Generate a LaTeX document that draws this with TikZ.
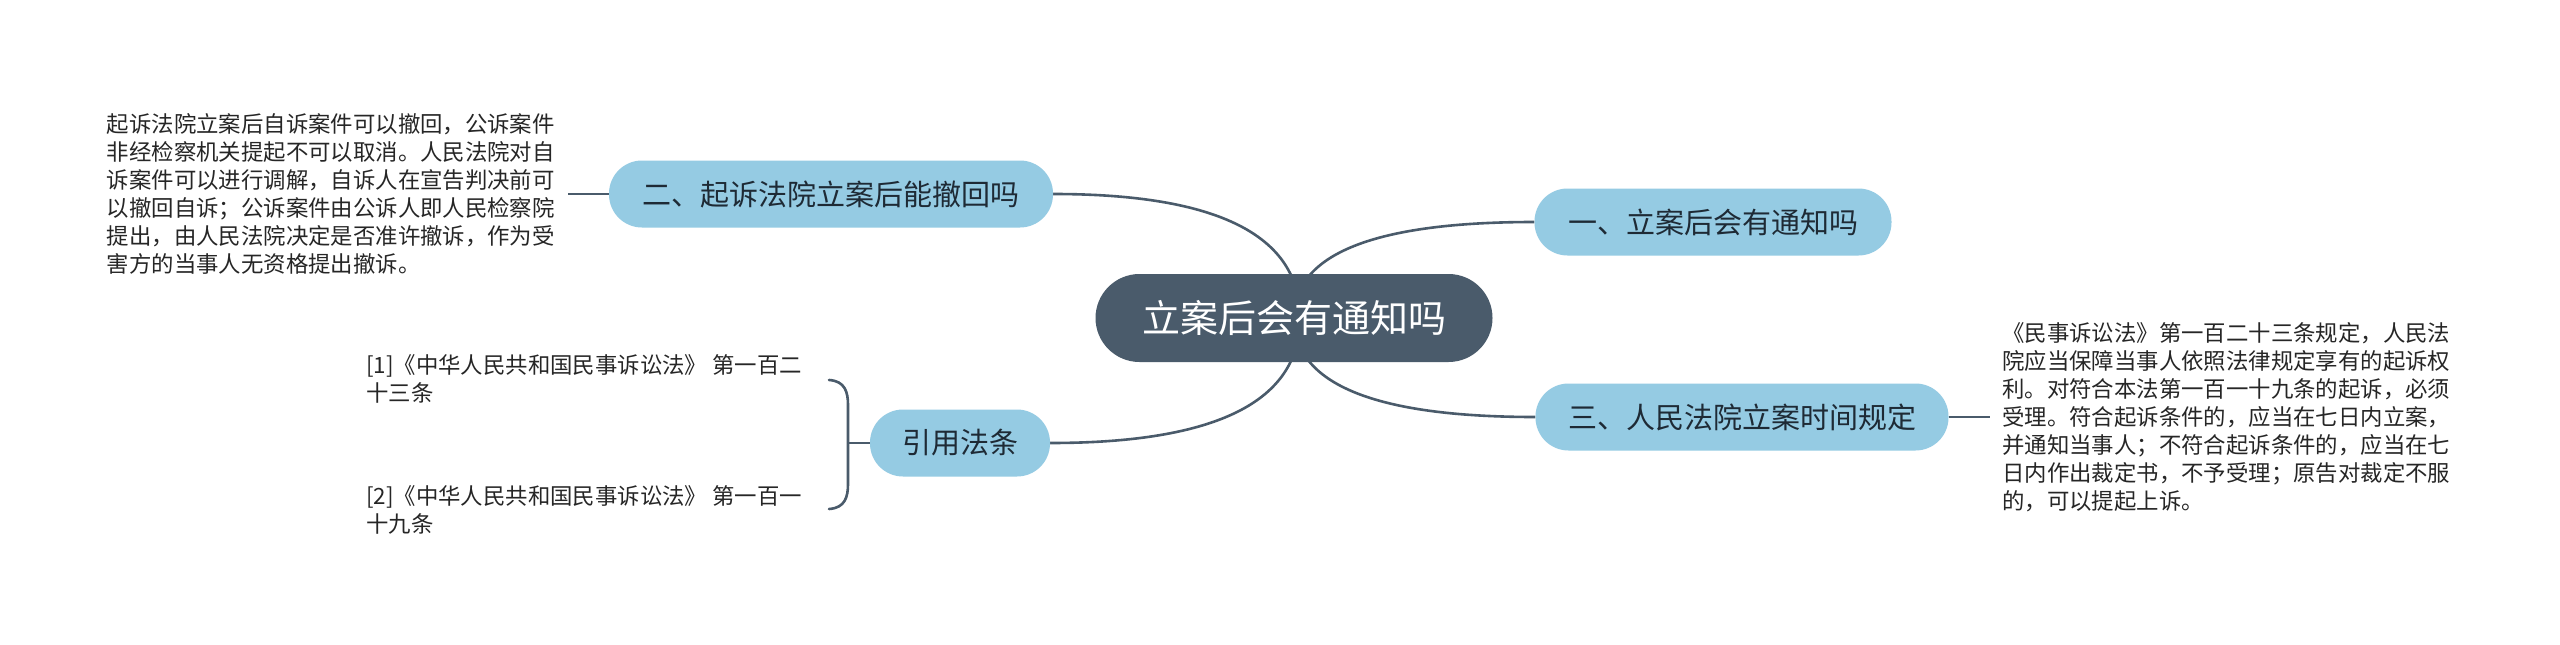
\documentclass[tikz,border=0pt]{standalone}
\usepackage{fontspec}
\setmainfont{Noto Sans CJK SC}
\usetikzlibrary{calc}
\pgfdeclarelayer{background}
\pgfsetlayers{background,main}
\definecolor{slate}{HTML}{4A5B6B}
\definecolor{sky}{HTML}{95CBE3}
\definecolor{ink}{HTML}{1E2A35}
\definecolor{bodytext}{HTML}{262626}
\begin{document}
\begin{tikzpicture}[x=1pt,y=-1pt,
  root/.style={fill=slate, text=white, rounded corners=44pt, minimum width=397pt, minimum height=88pt, inner sep=0pt, font=\fontsize{38}{44}\selectfont},
  topic/.style={fill=sky, text=ink, rounded corners=33pt, minimum height=67pt, inner sep=0pt, font=\fontsize{29}{34}\selectfont},
  note/.style={text=bodytext, align=left, inner sep=0pt, font=\fontsize{22.4}{28}\selectfont},
  link/.style={draw=slate, line width=2.6pt},
]
\useasboundingbox (0,0) rectangle (2560,645);

\node[root] (c) at (1294,318) {立案后会有通知吗};
\node[topic, minimum width=357pt] (b1) at (1713,222) {一、立案后会有通知吗};
\node[topic, minimum width=444pt] (b2) at (831,194) {二、起诉法院立案后能撤回吗};
\node[topic, minimum width=413pt] (b3) at (1742,417) {三、人民法院立案时间规定};
\node[topic, minimum width=180pt] (b4) at (960,443) {引用法条};

\node[note, anchor=east, inner xsep=13pt] (t2) at (568,194) {起诉法院立案后自诉案件可以撤回，公诉案件\\非经检察机关提起不可以取消。人民法院对自\\诉案件可以进行调解，自诉人在宣告判决前可\\以撤回自诉；公诉案件由公诉人即人民检察院\\提出，由人民法院决定是否准许撤诉，作为受\\害方的当事人无资格提出撤诉。};
\node[note, anchor=west, inner xsep=12pt] (t3) at (1990,417) {《民事诉讼法》第一百二十三条规定，人民法\\院应当保障当事人依照法律规定享有的起诉权\\利。对符合本法第一百一十九条的起诉，必须\\受理。符合起诉条件的，应当在七日内立案，\\并通知当事人；不符合起诉条件的，应当在七\\日内作出裁定书，不予受理；原告对裁定不服\\的，可以提起上诉。};
\node[note, anchor=west] (r1) at (366,379) {[1]《中华人民共和国民事诉讼法》 第一百二\\十三条};
\node[note, anchor=west] (r2) at (366,510) {[2]《中华人民共和国民事诉讼法》 第一百一\\十九条};

\coordinate (bt) at (829,380);
\coordinate (bb) at (829,509);
\coordinate (bm) at (848,443);
\draw[link, line cap=round] (bt) .. controls (845,381) and (848,392) .. (848,405) -- (848,484) .. controls (848,497) and (845,508) .. (bb);
\draw[link] (bm) -- (b4.west);

\draw[link] (t2.east) -- (b2.west);
\draw[link] (b3.east) -- (b3.east -| t3.west);

\begin{pgfonlayer}{background}
\fill[white] (0,0) rectangle (2560,645);
\coordinate (sl) at ($(c.center)+(6,0)$);
\coordinate (sr) at ($(c.center)+(0,0)$);
\coordinate (k2) at (sl|-b2.east);
\coordinate (k4) at (sl|-b4.east);
\coordinate (k1) at (sr|-b1.west);
\coordinate (k3) at (sr|-b3.west);
\draw[link] (sl) .. controls ($(sl)!2/3!(k2)$) and ($(b2.east)!2/3!(k2)$) .. (b2.east);
\draw[link] (sl) .. controls ($(sl)!2/3!(k4)$) and ($(b4.east)!2/3!(k4)$) .. (b4.east);
\draw[link] (sr) .. controls ($(sr)!2/3!(k1)$) and ($(b1.west)!2/3!(k1)$) .. (b1.west);
\draw[link] (sr) .. controls ($(sr)!2/3!(k3)$) and ($(b3.west)!2/3!(k3)$) .. (b3.west);
\end{pgfonlayer}
\end{tikzpicture}
\end{document}
